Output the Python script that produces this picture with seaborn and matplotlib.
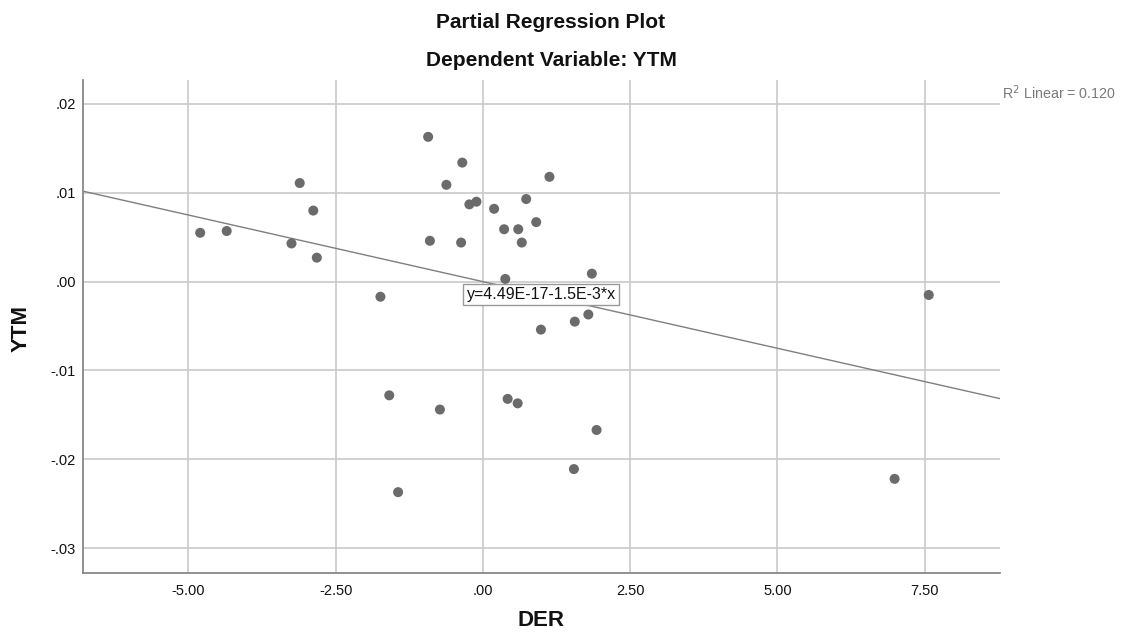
import numpy as np
import pandas as pd
import matplotlib
matplotlib.use("Agg")
import matplotlib.pyplot as plt
import seaborn as sns

# partial residuals
der = [-4.80, -4.35, -3.25, -3.11, -2.88, -2.82,
       -1.74, -1.59, -1.44,
       -0.93, -0.90, -0.73, -0.62, -0.37, -0.35, -0.23, -0.11,
       0.19, 0.36, 0.38, 0.42, 0.59, 0.60, 0.66, 0.735, 0.905, 0.985, 1.13,
       1.545, 1.56, 1.79, 1.85, 1.93,
       6.99, 7.57]
ytm = [0.0055, 0.0057, 0.0043, 0.0111, 0.0080, 0.0027,
       -0.0017, -0.0128, -0.0237,
       0.0163, 0.0046, -0.0144, 0.0109, 0.0044, 0.0134, 0.0087, 0.0090,
       0.0082, 0.0059, 0.0003, -0.0132, -0.0137, 0.0059, 0.0044, 0.0093, 0.0067, -0.0054, 0.0118,
       -0.0211, -0.0045, -0.0037, 0.0009, -0.0167,
       -0.0222, -0.0015]

intercept = 4.49e-17
slope = -1.5e-3
r2 = 0.120

x_ticks = [-5.0, -2.5, 0.0, 2.5, 5.0, 7.5]
x_ticklabels = ["-5.00", "-2.50", ".00", "2.50", "5.00", "7.50"]
y_ticks = [-0.03, -0.02, -0.01, 0.0, 0.01, 0.02]
y_ticklabels = ["-.03", "-.02", "-.01", ".00", ".01", ".02"]

df = pd.DataFrame({"DER": der, "YTM": ytm})

sns.set_style("white")
plt.rcParams['font.family'] = ['Liberation Sans', 'DejaVu Sans']

fig = plt.figure(figsize=(11.23, 6.39), dpi=100)
ax = fig.add_axes([0.0739, 0.1033, 0.8166, 0.7715])

ax.set_xlim(-6.79, 8.78)
ax.set_ylim(-0.0328, 0.0227)

# grid
for xv in x_ticks:
    ax.axvline(xv, color="#cacaca", lw=1.2, zorder=0)
for yv in y_ticks:
    ax.axhline(yv, color="#cacaca", lw=1.2, zorder=0)

# fit line
ax.axline((0, intercept), slope=slope, color="#7f7f7f", lw=1.0, zorder=1)

sns.scatterplot(data=df, x="DER", y="YTM", ax=ax, color="#6b6b6b",
                s=52, edgecolor="none", linewidth=0, zorder=3, legend=False)

ax.set_xticks(x_ticks)
ax.set_xticklabels(x_ticklabels)
ax.set_yticks(y_ticks)
ax.set_yticklabels(y_ticklabels)
ax.tick_params(axis="both", length=0, labelsize=10.5, colors="#111111")
ax.tick_params(axis="x", pad=8)
ax.tick_params(axis="y", pad=5)

for side in ["top", "right"]:
    ax.spines[side].set_visible(False)
for side in ["left", "bottom"]:
    ax.spines[side].set_color("#888888")
    ax.spines[side].set_linewidth(1.3)

ax.set_xlabel("")
ax.set_ylabel("")

# equation label
ax.text(0.99, -0.00146, "y=4.49E-17-1.5E-3*x", ha="center", va="center",
        fontsize=11.5, color="#111111", zorder=5,
        bbox=dict(boxstyle="square,pad=0.2", facecolor="white",
                  edgecolor="#999999", linewidth=1))

fig.text(1002 / 1123, 1 - 93 / 639, "R$^2$ Linear = " + f"{r2:.3f}",
         ha="left", va="center", fontsize=10.3, color="#7a7a7a")

fig.text(551 / 1123, 1 - 23 / 639, "Partial Regression Plot",
         ha="center", va="center", fontsize=15, fontweight="bold", color="#111111")
fig.text(551 / 1123, 1 - 60 / 639, "Dependent Variable: YTM",
         ha="center", va="center", fontsize=15, fontweight="bold", color="#111111")
fig.text(541 / 1123, 1 - 620 / 639, "DER",
         ha="center", va="center", fontsize=16, fontweight="bold", color="#111111")
fig.text(21 / 1123, 1 - 329 / 639, "YTM", rotation=90,
         ha="center", va="center", fontsize=16, fontweight="bold", color="#111111")

fig.savefig("out.png", dpi=100)
